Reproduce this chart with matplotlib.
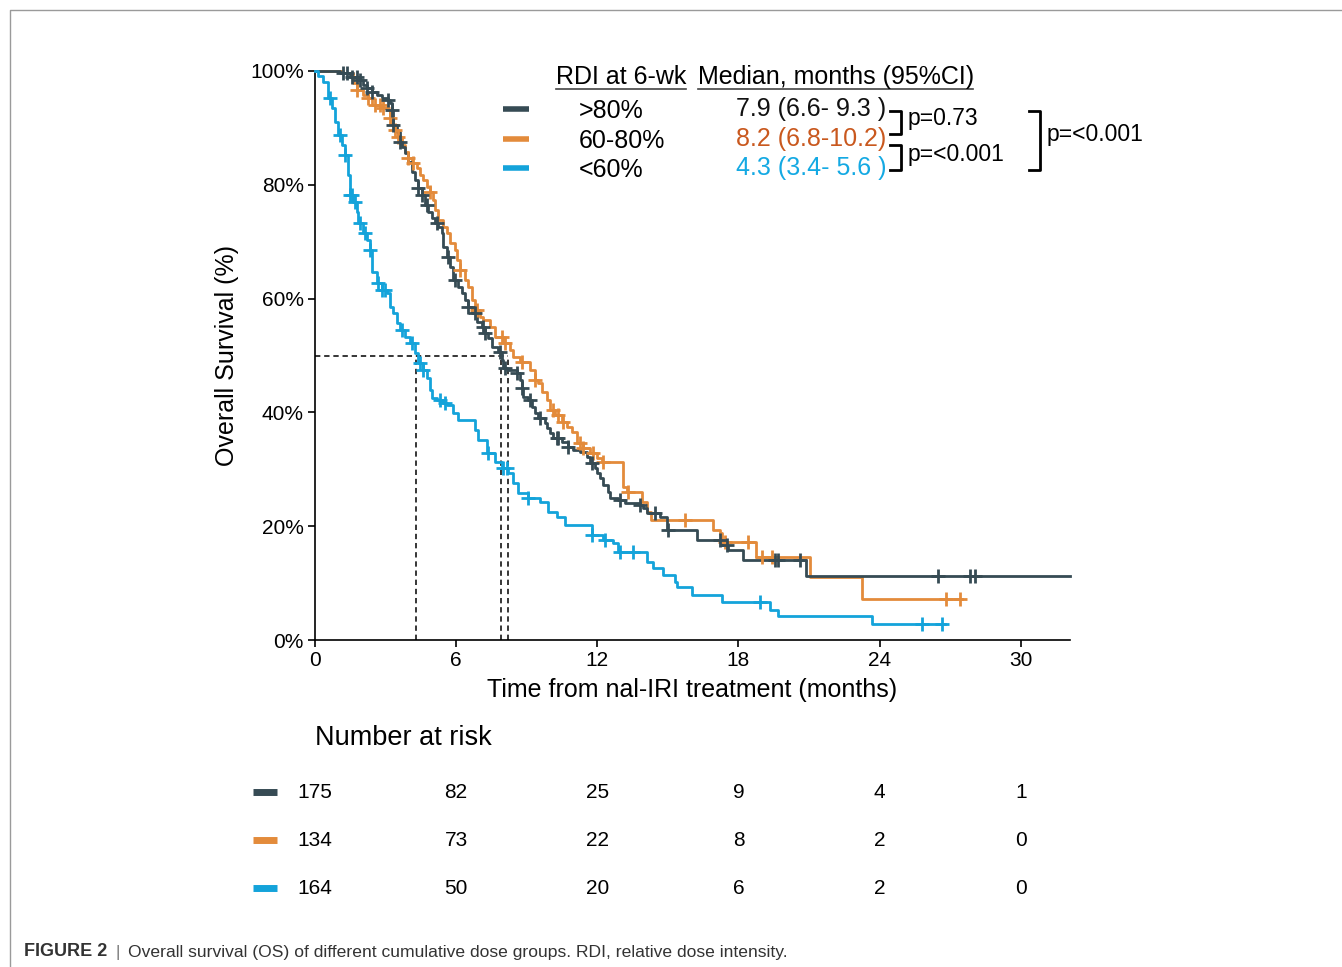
import numpy as np
import matplotlib
matplotlib.use("Agg")
import matplotlib.pyplot as plt
from matplotlib.lines import Line2D

plt.rcParams['font.family'] = ['Liberation Sans', 'DejaVu Sans']

# ---- data ----
groups = ['>80%', '60-80%', '<60%']
colors = ['#364B54', '#E38B3B', '#14A3DA']
median_txt = ['7.9 (6.6- 9.3 )', '8.2 (6.8-10.2)', '4.3 (3.4- 5.6 )']
median_col = ['#111111', '#C9581E', '#14A9E3']
medians = [7.9, 8.2, 4.3]

# >80%  (time in months, survival in %)
t_hi = [0, 1.06, 1.49, 1.91, 2.04, 2.21, 2.42, 2.63, 2.85, 3.10, 3.19, 3.27, 3.31, 3.48, 3.61, 3.70,
        3.82, 3.95, 4.12, 4.25, 4.38, 4.55, 4.67, 4.80, 4.97, 5.10, 5.23, 5.40, 5.44, 5.61, 5.74,
        5.86, 6.08, 6.25, 6.37, 6.50, 6.67, 6.88, 7.10, 7.22, 7.35, 7.52, 7.78, 7.95, 7.99, 8.16,
        8.58, 8.71, 8.80, 8.84, 9.05, 9.22, 9.35, 9.48, 9.77, 9.86, 9.99, 10.11, 10.50, 10.75,
        10.96, 11.26, 11.56, 11.69, 11.90, 11.98, 12.11, 12.24, 12.45, 12.54, 12.88, 13.17, 13.81,
        13.94, 14.11, 14.66, 14.96, 16.23, 17.25, 17.55, 18.19, 20.87, 32.09]
s_hi = [100, 99.6, 98.9, 98.4, 97.5, 97.0, 96.3, 95.8, 95.3, 94.9, 94.4, 93.1, 90.5, 89.3, 87.5, 86.6,
        85.6, 84.0, 82.2, 80.8, 79.4, 78.2, 76.4, 75.2, 74.2, 73.3, 72.6, 71.5, 69.1, 67.3, 65.6,
        63.3, 62.0, 61.0, 59.8, 58.5, 57.5, 55.9, 55.0, 53.9, 53.1, 51.5, 50.6, 49.2, 47.8, 47.4,
        46.9, 45.7, 44.3, 42.7, 42.2, 40.9, 39.9, 39.0, 38.1, 37.3, 36.4, 35.5, 34.8, 33.9,
        33.4, 33.0, 32.2, 31.1, 30.2, 29.3, 28.5, 27.2, 26.0, 24.9, 24.6, 24.1, 23.7,
        23.2, 22.3, 21.6, 19.3, 17.6, 16.7, 15.8, 14.1, 11.2, 11.2]
c_hi = [1.19, 1.36, 1.57, 1.78, 1.91, 2.21, 2.42, 3.10, 3.27, 3.31, 3.61, 4.38, 4.55, 4.76, 5.18,
        5.65, 5.95, 6.50, 6.80, 7.14, 7.22, 7.86, 8.07, 8.58, 8.80, 9.14, 9.56, 10.28, 10.33, 10.75,
        11.77, 12.96, 13.81, 14.45, 15.00, 17.21, 17.51, 19.55, 19.68, 20.61, 26.48, 27.84, 28.05]

# 60-80%
t_mid = [0, 1.19, 1.61, 1.78, 2.04, 2.25, 2.42, 2.85, 3.06, 3.19, 3.27, 3.40, 3.53, 3.70, 3.82, 3.95,
         4.12, 4.33, 4.46, 4.59, 4.76, 4.89, 5.01, 5.10, 5.23, 5.44, 5.61, 5.74, 5.95, 6.03, 6.16,
         6.37, 6.50, 6.67, 6.80, 7.01, 7.14, 7.44, 7.65, 7.99, 8.29, 8.41, 8.71, 9.14, 9.35, 9.48,
         9.65, 9.86, 9.99, 10.20, 10.50, 10.71, 10.92, 11.13, 11.39, 11.69, 11.98, 12.20, 13.09,
         13.26, 13.90, 14.11, 14.28, 16.91, 17.21, 17.30, 18.74, 21.04, 23.25, 27.50]
s_mid = [100, 99.6, 97.9, 96.7, 95.8, 95.3, 94.0, 93.5, 93.1, 91.7, 90.5, 89.6, 88.4, 87.0, 85.8, 84.7,
         83.8, 82.9, 81.7, 80.8, 79.6, 78.7, 77.3, 75.6, 73.8, 72.6, 71.5, 69.8, 68.5, 66.8, 65.0,
         63.3, 62.0, 59.8, 58.0, 56.8, 56.2, 55.0, 53.3, 52.2, 51.0, 49.7, 48.9, 47.4, 45.7, 45.2,
         43.6, 42.2, 40.4, 39.5, 38.3, 37.4, 36.6, 34.6, 33.7, 32.9, 32.0, 31.3, 26.9,
         26.0, 24.3, 22.5, 21.1, 19.3, 18.8, 17.2, 14.6, 11.1, 7.2, 7.2]
c_mid = [1.78, 2.25, 2.55, 2.76, 2.89, 3.19, 3.40, 3.53, 3.95, 4.16, 4.89, 6.16, 6.88, 7.95, 8.07,
         8.80, 9.35, 10.11, 10.33, 10.54, 11.26, 11.39, 11.81, 12.24, 13.30, 15.72, 17.42, 18.40,
         18.99, 19.42, 26.82, 27.41]

# <60%
t_lo = [0, 0.13, 0.34, 0.55, 0.72, 0.85, 0.98, 1.15, 1.27, 1.40, 1.49, 1.61, 1.78, 1.83, 2.04, 2.21,
        2.34, 2.42, 2.63, 2.85, 3.06, 3.19, 3.31, 3.48, 3.61, 3.82, 4.04, 4.25, 4.38, 4.59, 4.76,
        4.89, 4.97, 5.18, 5.44, 5.61, 5.86, 6.08, 6.80, 6.93, 7.31, 7.65, 7.95, 8.20, 8.41, 8.63,
        9.05, 9.56, 9.90, 10.28, 10.62, 11.77, 12.24, 12.66, 12.88, 14.11, 14.36, 14.79, 15.30,
        15.38, 16.02, 17.30, 19.34, 19.68, 23.67, 26.77]
s_lo = [100, 99.1, 98.0, 95.2, 93.5, 91.0, 88.7, 87.0, 85.2, 81.7, 78.2, 77.0, 75.2, 73.3, 71.5, 70.3,
        68.5, 64.7, 62.7, 61.5, 61.0, 58.5, 57.5, 55.7, 54.5, 53.3, 52.2, 50.4, 48.7, 47.5, 46.0,
        43.9, 42.5, 42.2, 41.6, 41.3, 39.9, 38.7, 36.9, 35.1, 32.9, 31.3, 30.2, 29.3, 27.6, 25.8,
        24.9, 24.2, 22.5, 21.6, 20.2, 18.4, 17.6, 17.0, 15.5, 13.7, 12.7, 11.4, 10.2,
        9.3, 7.9, 6.7, 5.3, 4.2, 2.8, 2.8]
c_lo = [0.64, 1.06, 1.27, 1.49, 1.57, 1.70, 1.91, 2.12, 2.34, 2.68, 2.85, 2.97, 3.70, 4.12, 4.46,
        4.59, 5.31, 5.52, 7.35, 7.99, 8.16, 9.05, 11.77, 12.32, 12.96, 13.51, 18.91, 25.80, 26.65]

risk_times = [0, 6, 12, 18, 24, 30]
risk_hi = [175, 82, 25, 9, 4, 1]
risk_mid = [134, 73, 22, 8, 2, 0]
risk_lo = [164, 50, 20, 6, 2, 0]

curves = [(t_hi, s_hi, c_hi), (t_mid, s_mid, c_mid), (t_lo, s_lo, c_lo)]
risks = [risk_hi, risk_mid, risk_lo]

W, H = 1342, 967
fig = plt.figure(figsize=(W / 100, H / 100), dpi=100)


def fx(x):
    return x / W


def fy(y):
    return 1 - y / H


ax = fig.add_axes([fx(315), fy(640), fx(1070) - fx(315), fy(71) - fy(640)])

# draw order: orange, dark, blue
for i in [1, 0, 2]:
    t, s, c = curves[i]
    t = np.array(t)
    s = np.array(s)
    ax.step(t, s, where='post', color=colors[i], lw=2.0, clip_on=False, zorder=3)
    c = np.array(c)
    idx = np.searchsorted(t, c, side='right') - 1
    ax.plot(c, s[idx], ls='none', marker='+', ms=9.5, mew=2.0, color=colors[i],
            clip_on=False, zorder=4)

# median lines
ax.plot([0, max(medians)], [50, 50], ls=(0, (3.5, 2.5)), color='k', lw=1.1, zorder=2)
for m in medians:
    ax.plot([m, m], [0, 50], ls=(0, (3.5, 2.5)), color='k', lw=1.1, zorder=2)

ax.set_xlim(0, 32.09)
ax.set_ylim(0, 100)
ax.set_xticks(risk_times)
ax.set_yticks([0, 20, 40, 60, 80, 100])
ax.set_yticklabels(['0%', '20%', '40%', '60%', '80%', '100%'])
ax.tick_params(labelsize=15, length=5, width=1.2, direction='out', pad=3)
for sp in ['top', 'right']:
    ax.spines[sp].set_visible(False)
for sp in ['left', 'bottom']:
    ax.spines[sp].set_linewidth(1.2)
ax.set_xlabel('Time from nal-IRI treatment (months)', fontsize=18, labelpad=6)
ax.set_ylabel('Overall Survival (%)', fontsize=18, labelpad=8)

# legend block
fig.text(fx(556), fy(77), 'RDI at 6-wk', fontsize=18, va='center', ha='left')
fig.text(fx(698), fy(77), 'Median, months (95%CI)', fontsize=18, va='center', ha='left')
fig.add_artist(Line2D([fx(556), fx(686)], [fy(89), fy(89)], color='#444444', lw=1.2))
fig.add_artist(Line2D([fx(698), fx(973)], [fy(89), fy(89)], color='#444444', lw=1.2))
rows_y = [109, 139, 168]
for i in range(3):
    y = rows_y[i]
    fig.add_artist(Line2D([fx(503), fx(529)], [fy(y), fy(y)], color=colors[i], lw=4,
                          solid_capstyle='butt'))
    fig.text(fx(579), fy(y + 2), groups[i], fontsize=18, va='center', ha='left')
    fig.text(fx(736), fy(y), median_txt[i], fontsize=18, va='center', ha='left',
             color=median_col[i])


def bracket(x, y0, y1, w=11):
    xs = [fx(x - w), fx(x), fx(x), fx(x - w)]
    ys = [fy(y0), fy(y0), fy(y1), fy(y1)]
    fig.add_artist(Line2D(xs, ys, color='k', lw=2.0))


bracket(901, 111, 134)
bracket(901, 145, 170)
bracket(1040, 111, 170)
fig.text(fx(908), fy(119), 'p=0.73', fontsize=16.5, va='center', ha='left')
fig.text(fx(908), fy(155), 'p=<0.001', fontsize=16.5, va='center', ha='left')
fig.text(fx(1047), fy(135), 'p=<0.001', fontsize=16.5, va='center', ha='left')

# number at risk table
tr = ax.get_xaxis_transform()
ax.text(0, (640 - 738) / 569, 'Number at risk', transform=tr, fontsize=19.5,
        va='center', ha='left', clip_on=False)
risk_y = [792, 840, 888]
for i in range(3):
    yy = (640 - risk_y[i]) / 569
    ax.add_line(Line2D([-2.63, -1.62], [yy, yy], transform=tr, color=colors[i], lw=5,
                       solid_capstyle='butt', clip_on=False))
    for tt, n in zip(risk_times, risks[i]):
        ax.text(tt, yy, str(n), transform=tr, fontsize=15, va='center', ha='center',
                clip_on=False)

# page frame and caption
fig.add_artist(Line2D([fx(10), fx(10), fx(1342)], [fy(967), fy(9.5), fy(9.5)],
                      color='#9a9a9a', lw=1.0))
fig.text(fx(24), fy(952), 'FIGURE 2', fontsize=13, fontweight='bold', va='center',
         ha='left', color='#333333')
fig.text(fx(115), fy(952), '|', fontsize=12.5, va='center', ha='left', color='#777777')
fig.text(fx(128), fy(952),
         'Overall survival (OS) of different cumulative dose groups. RDI, relative dose intensity.',
         fontsize=12.6, va='center', ha='left', color='#333333')

fig.savefig('out.png', dpi=100)
